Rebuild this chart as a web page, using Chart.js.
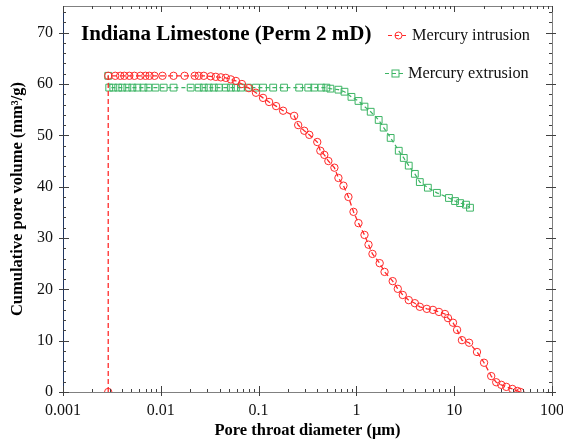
<!DOCTYPE html>
<html>
<head>
<meta charset="utf-8">
<script src="https://cdn.jsdelivr.net/npm/chart.js@4.4.0/dist/chart.umd.min.js"></script>
<style>
  html, body { margin: 0; padding: 0; background: #fff; }
  #wrap { width: 563px; height: 442px; }
</style>
</head>
<body>
<div id="wrap"><canvas id="poreChart" width="563" height="442"></canvas></div>
<script>
// pore throat diameter (um) vs cumulative pore volume (mm3/g)
const intrusionDiameter = [0.0029, 0.0029, 0.00342, 0.00385, 0.00424, 0.00477, 0.00537, 0.00618, 0.00696, 0.00766, 0.00862,
  0.0104, 0.0135, 0.0175, 0.0222, 0.0244, 0.0275, 0.0324, 0.0365, 0.0411, 0.0462, 0.052, 0.0586, 0.0675, 0.0796,
  0.094, 0.111, 0.128, 0.151, 0.178, 0.231, 0.254, 0.293, 0.33, 0.398, 0.428, 0.47, 0.517, 0.596, 0.655, 0.737,
  0.829, 0.934, 1.05, 1.21, 1.33, 1.46, 1.73, 1.94, 2.35, 2.65, 2.98, 3.43, 3.96, 4.45, 5.25, 6.06, 6.98, 8.04,
  8.64, 9.72, 10.7, 12.0, 14.2, 17.1, 20.2, 23.9, 26.9, 30.3, 34.1, 39.3, 44.2, 47.5];
const intrusionVolume = [0, 61.6, 61.6, 61.6, 61.6, 61.6, 61.6, 61.6, 61.6, 61.6, 61.6,
  61.6, 61.6, 61.6, 61.6, 61.6, 61.6, 61.5, 61.4, 61.3, 61.2, 60.9, 60.6, 60.0, 59.2,
  58.3, 57.3, 56.5, 55.7, 54.8, 53.8, 52.0, 50.9, 50.1, 48.7, 47.0, 46.2, 45.0, 43.7, 41.7, 40.2,
  38.0, 35.1, 32.9, 30.6, 28.7, 26.9, 25.1, 23.4, 21.6, 20.1, 18.9, 17.9, 17.3, 16.6, 16.2, 16.0, 15.6, 15.2,
  14.4, 13.5, 12.1, 10.1, 9.6, 7.8, 5.7, 3.1, 1.9, 1.4, 1.0, 0.6, 0.2, 0];

const extrusionDiameter = [0.0029, 0.00297, 0.00327, 0.00367, 0.00404, 0.00455, 0.00512, 0.00576, 0.00664, 0.00747, 0.00882,
  0.0107, 0.0135, 0.0202, 0.0244, 0.0275, 0.0309, 0.0348, 0.0392, 0.0462, 0.052, 0.0586, 0.0659, 0.0778, 0.094,
  0.111, 0.141, 0.182, 0.26, 0.322, 0.371, 0.438, 0.493, 0.542, 0.655, 0.755, 0.89, 1.05, 1.21, 1.4, 1.69,
  1.9, 2.24, 2.71, 3.05, 3.43, 3.96, 4.45, 5.38, 6.66, 8.84, 10.2, 11.5, 13.2, 14.5];
const extrusionVolume = [61.6, 59.3, 59.3, 59.3, 59.3, 59.3, 59.3, 59.3, 59.3, 59.3, 59.3,
  59.3, 59.3, 59.3, 59.3, 59.3, 59.3, 59.3, 59.3, 59.3, 59.3, 59.3, 59.3, 59.3, 59.3,
  59.3, 59.3, 59.3, 59.3, 59.3, 59.3, 59.3, 59.3, 59.1, 58.9, 58.5, 57.5, 56.7, 55.6, 54.6, 53.0,
  51.5, 49.5, 47.0, 45.6, 44.1, 42.5, 40.9, 39.8, 38.8, 37.8, 37.2, 36.8, 36.5, 35.9];

const xTickValues = [0.001, 0.01, 0.1, 1, 10, 100];
const xTickLabels = ['0.001', '0.01', '0.1', '1', '10', '100'];
const yTickValues = [0, 10, 20, 30, 40, 50, 60, 70];

const redColor = '#ff2a2a';
const greenColor = '#3cb464';
const serif = '"Liberation Serif", "Times New Roman", serif';

function toPoints(xs, ys) {
  return xs.map((v, i) => ({ x: v, y: ys[i] }));
}

const frameAndLabels = {
  id: 'frameAndLabels',
  afterDraw(chart) {
    const { ctx, chartArea: a, scales: { x, y } } = chart;
    ctx.save();
    ctx.lineWidth = 1;
    ctx.strokeStyle = '#808080';
    ctx.strokeRect(a.left + 0.5, a.top + 0.5, a.right - a.left, a.bottom - a.top);
    ctx.strokeStyle = '#1f3561';
    ctx.beginPath();
    ctx.moveTo(a.left + 0.5, a.top);
    ctx.lineTo(a.left + 0.5, a.bottom);
    ctx.stroke();

    // x ticks, bottom and top
    ctx.strokeStyle = '#404040';
    ctx.beginPath();
    for (let d = -3; d <= 2; d++) {
      const px = Math.round(x.getPixelForValue(Math.pow(10, d))) + 0.5;
      ctx.moveTo(px, a.bottom + 4); ctx.lineTo(px, a.bottom - 6);
      ctx.moveTo(px, a.top); ctx.lineTo(px, a.top + 6);
      if (d === 2) continue;
      for (let m = 2; m <= 9; m++) {
        const mx = Math.round(x.getPixelForValue(m * Math.pow(10, d))) + 0.5;
        ctx.moveTo(mx, a.bottom); ctx.lineTo(mx, a.bottom - 3);
        ctx.moveTo(mx, a.top); ctx.lineTo(mx, a.top + 3);
      }
    }
    // y ticks, left and right
    for (let v = 0; v <= 74; v += 2) {
      const py = Math.round(y.getPixelForValue(v)) + 0.5;
      const major = v % 10 === 0;
      ctx.moveTo(a.left - (major ? 4 : 0), py); ctx.lineTo(a.left + (major ? 6 : 3), py);
      ctx.moveTo(a.right + (major ? 4 : 0), py); ctx.lineTo(a.right - (major ? 6 : 3), py);
    }
    ctx.stroke();

    // title inside the plot
    ctx.fillStyle = '#000';
    ctx.font = 'bold 21px ' + serif;
    ctx.textBaseline = 'alphabetic';
    ctx.fillText('Indiana Limestone (Perm 2 mD)', 81, 40);

    // legend
    ctx.font = '16.3px ' + serif;
    ctx.fillStyle = '#111';
    ctx.lineWidth = 1.2;
    ctx.setLineDash([4, 3]);
    ctx.strokeStyle = redColor;
    ctx.beginPath(); ctx.moveTo(388, 35.5); ctx.lineTo(409, 35.5); ctx.stroke();
    ctx.strokeStyle = greenColor;
    ctx.beginPath(); ctx.moveTo(385, 73.5); ctx.lineTo(406, 73.5); ctx.stroke();
    ctx.setLineDash([]);
    ctx.lineWidth = 1;
    ctx.strokeStyle = redColor;
    ctx.beginPath(); ctx.arc(398.5, 35.5, 3.5, 0, Math.PI * 2); ctx.stroke();
    ctx.strokeStyle = greenColor;
    ctx.strokeRect(392, 70, 7, 7);
    ctx.fillText('Mercury intrusion', 412, 40);
    ctx.fillText('Mercury extrusion', 408, 78);
    ctx.restore();
  }
};

const poreChart = new Chart(document.getElementById('poreChart'), {
  type: 'line',
  data: {
    datasets: [{
      label: 'Mercury intrusion',
      data: toPoints(intrusionDiameter, intrusionVolume),
      borderColor: redColor,
      borderWidth: 1.3,
      borderDash: [5, 3],
      pointStyle: 'circle',
      pointRadius: 3.7,
      pointBorderColor: redColor,
      pointBackgroundColor: 'rgba(0,0,0,0)',
      pointBorderWidth: 1,
      tension: 0
    }, {
      label: 'Mercury extrusion',
      data: toPoints(extrusionDiameter, extrusionVolume),
      borderColor: greenColor,
      borderWidth: 1.2,
      borderDash: [4, 3],
      pointStyle: 'rect',
      pointRadius: 4.8,
      pointBorderColor: greenColor,
      pointBackgroundColor: 'rgba(0,0,0,0)',
      pointBorderWidth: 1,
      tension: 0
    }]
  },
  options: {
    responsive: false,
    animation: false,
    layout: { padding: { left: 0, right: 11, top: 6, bottom: 0 } },
    plugins: { legend: { display: false }, tooltip: { enabled: false } },
    scales: {
      x: {
        type: 'logarithmic',
        min: 0.001,
        max: 100,
        afterBuildTicks: (s) => { s.ticks = xTickValues.map(v => ({ value: v })); },
        afterFit: (s) => { s.height = 50; s.paddingLeft = 0; s.paddingRight = 0; },
        grid: { display: false, drawTicks: false },
        border: { display: false },
        ticks: {
          padding: 9,
          color: '#111',
          font: { family: serif, size: 16 },
          autoSkip: false,
          maxRotation: 0,
          callback: (v) => xTickLabels[xTickValues.indexOf(v)]
        },
        title: {
          display: true,
          text: 'Pore throat diameter (μm)',
          color: '#000',
          font: { family: serif, size: 16.5, weight: 'bold' },
          padding: { top: 0, bottom: 1 }
        }
      },
      y: {
        type: 'linear',
        min: 0,
        max: 75.2,
        afterBuildTicks: (s) => { s.ticks = yTickValues.map(v => ({ value: v })); },
        afterFit: (s) => { s.width = 63; s.paddingTop = 0; s.paddingBottom = 0; },
        grid: { display: false, drawTicks: false },
        border: { display: false },
        ticks: {
          padding: 10,
          color: '#111',
          font: { family: serif, size: 16 }
        },
        title: {
          display: true,
          text: 'Cumulative pore volume (mm³/g)',
          color: '#000',
          font: { family: serif, size: 16.5, weight: 'bold' },
          padding: { top: 8, bottom: 0 }
        }
      }
    }
  },
  plugins: [frameAndLabels]
});
</script>
</body>
</html>
